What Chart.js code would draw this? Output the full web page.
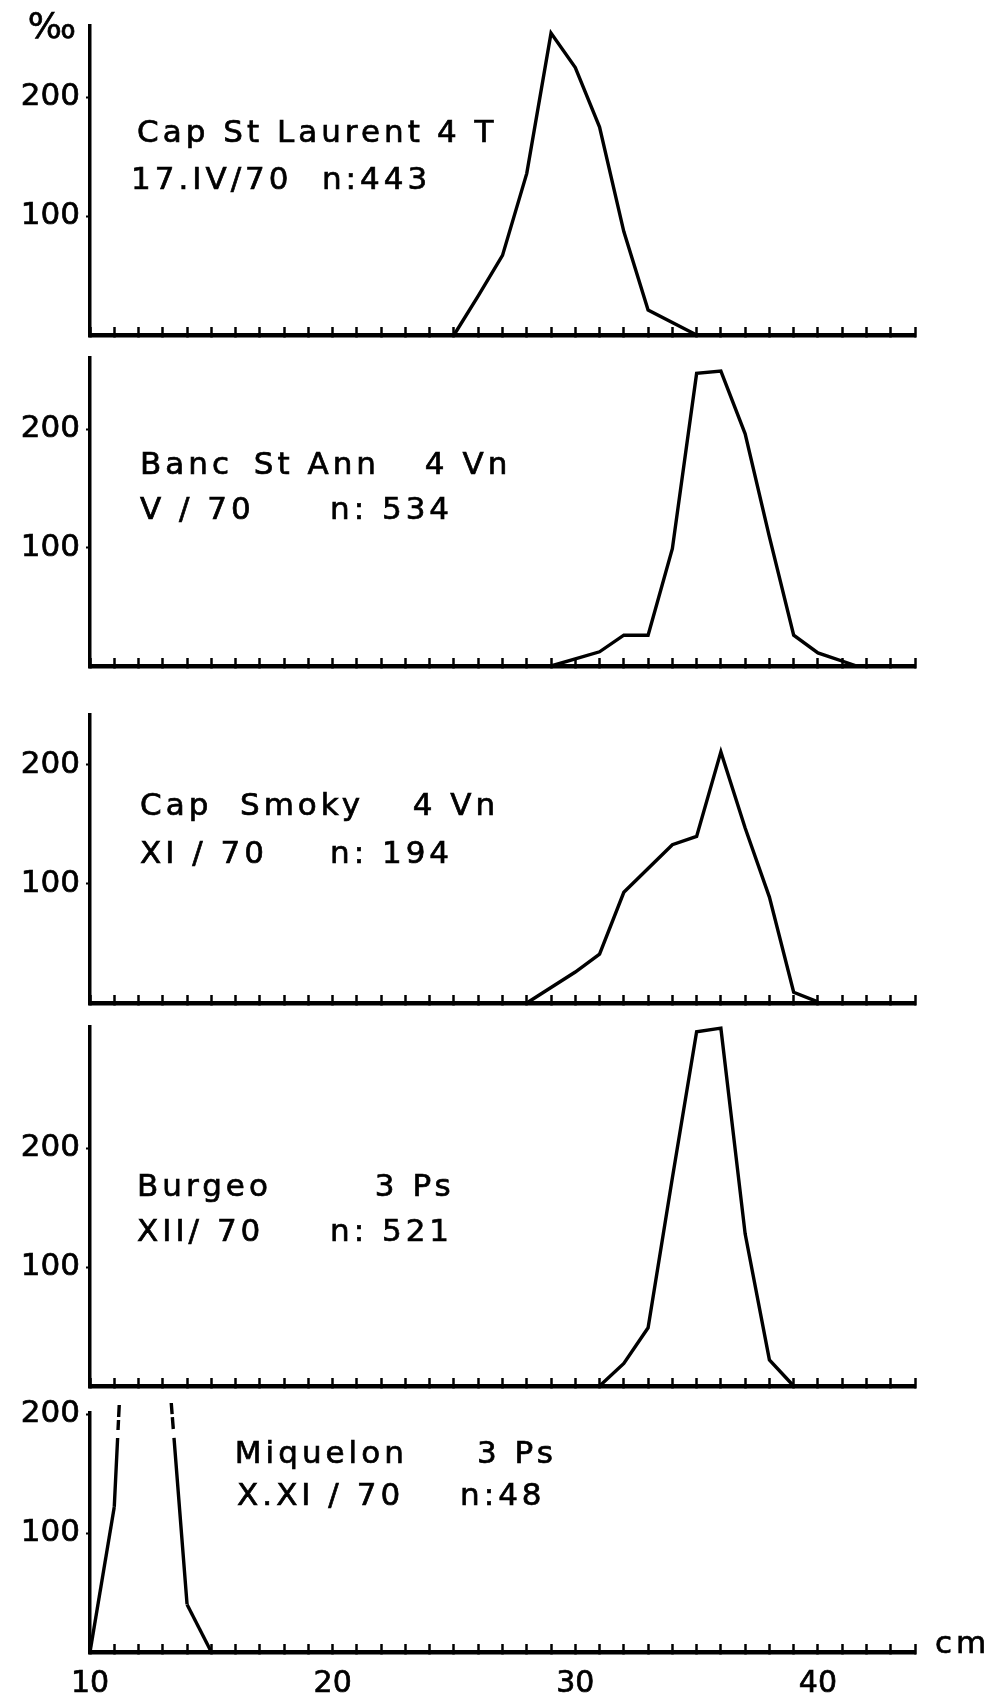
<!DOCTYPE html>
<html>
<head>
<meta charset="utf-8">
<title>Longueurs</title>
<script src="https://cdn.jsdelivr.net/npm/chart.js@4.4.1/dist/chart.umd.min.js"></script>
<style>
  html, body { margin: 0; padding: 0; background: #fff; }
  body { width: 988px; height: 1695px; position: relative; overflow: hidden; }
  canvas { position: absolute; left: 0; }
</style>
</head>
<body>
<canvas id="p1"></canvas>
<canvas id="p2"></canvas>
<canvas id="p3"></canvas>
<canvas id="p4"></canvas>
<canvas id="p5"></canvas>
<script>
// classes de longueur (cm) et frequences (pour mille)
const capStLaurentCm = [25, 26, 27, 28, 29, 30, 31, 32, 33, 35];
const capStLaurentPm = [0, 33, 67, 136, 254, 225, 175, 87, 21, 0];

const bancStAnnCm = [29, 30, 31, 32, 33, 34, 35, 36, 37, 38, 39, 40, 41.6];
const bancStAnnPm = [0, 6, 12, 26, 26, 99, 247, 249, 196, 109, 26, 11, 0];

const capSmokyCm = [28, 29, 30, 31, 32, 33, 34, 35, 36, 37, 38, 39, 40];
const capSmokyPm = [0, 13, 26, 41, 93, 113, 133, 140, 211, 147, 89, 9, 1];

const burgeoCm = [31, 32, 33, 34, 35, 36, 37, 38, 39];
const burgeoPm = [0, 19, 49, 175, 298, 301, 128, 22, 0];

// 12 et 13 cm sortent du cadre (trait interrompu)
const miquelonCm = [10, 11, 12, 13, 14, 15];
const miquelonPm = [0, 122, 540, 300, 40, 0];

const xTickLabels = [10, 20, 30, 40];
const yTickLabels = [100, 200];

const capStLaurentText = ['Cap St Laurent', '4 T', '17.IV/70', 'n:443'];
const bancStAnnText = ['Banc', 'St Ann', '4 Vn', 'V / 70', 'n: 534'];
const capSmokyText = ['Cap', 'Smoky', '4 Vn', 'XI / 70', 'n: 194'];
const burgeoText = ['Burgeo', '3 Ps', 'XII/ 70', 'n: 521'];
const miquelonText = ['Miquelon', '3 Ps', 'X.XI / 70', 'n:48'];

// mise en page : haut du cadre, ligne de base (px), max de l'axe, position des textes (cm, pour mille)
const AREA_LEFT = 90;
const AREA_RIGHT = 915;
const PAGE_H = 1695;
const panels = [
  { id: 'p1', top: 26, base: 335, yMax: 260, cm: capStLaurentCm, pm: capStLaurentPm, text: capStLaurentText,
    at: [[11.94, 162], [24.3, 162], [11.69, 123], [19.56, 123]], yUnit: '\u2030' },
  { id: 'p2', top: 358, base: 666, yMax: 260, cm: bancStAnnCm, pm: bancStAnnPm, text: bancStAnnText,
    at: [[12.06, 162], [16.75, 162], [23.8, 162], [12.06, 124], [19.89, 124]] },
  { id: 'p3', top: 715, base: 1003, yMax: 242, cm: capSmokyCm, pm: capSmokyPm, text: capSmokyText,
    at: [[12.06, 158], [16.18, 158], [23.3, 158], [12.06, 118], [19.89, 118]] },
  { id: 'p4', top: 1027, base: 1386, yMax: 302, cm: burgeoCm, pm: burgeoPm, text: burgeoText,
    at: [[11.94, 160], [21.74, 160], [11.94, 122], [19.89, 122]] },
  { id: 'p5', top: 1413, base: 1652, yMax: 201, cm: miquelonCm, pm: miquelonPm, text: miquelonText,
    at: [[15.97, 159], [25.95, 159], [16.06, 124], [25.25, 124]], xUnit: 'cm', last: true }
];

Chart.defaults.font.family = '"DejaVu Sans", sans-serif';
Chart.defaults.font.size = 31;
Chart.defaults.color = '#000';

const BREAK_AT = 180;

// trait interrompu la ou la courbe quitte le cadre
function breakDash(ctx) {
  const y = ctx.chart.scales.y;
  const a = ctx.p0, b = ctx.p1;
  const outA = a.parsed.y > y.max, outB = b.parsed.y > y.max;
  if (outA === outB) return undefined;
  const yb = y.getPixelForValue(BREAK_AT);
  const len = Math.hypot(b.x - a.x, b.y - a.y);
  if (outB) {
    const s = len * (a.y - yb) / (a.y - b.y);
    return [s, 8, 10, 3, 12, len];
  }
  const e = len * (yb - a.y) / (b.y - a.y);
  return [Math.max(e - 24, 0), 3, 12, 9, len];
}

function makeCaptions(p) {
  return {
    id: 'captions',
    afterDraw(chart) {
      const { ctx, scales: { x, y }, chartArea } = chart;
      const put = (t, px, py) => { ctx.fillText(t, px, py); ctx.strokeText(t, px, py); };
      ctx.save();
      ctx.fillStyle = '#000';
      ctx.strokeStyle = '#000';
      ctx.lineWidth = 0.7;
      ctx.textBaseline = 'alphabetic';
      ctx.font = '31px "DejaVu Sans"';
      ctx.letterSpacing = '4px';
      p.text.forEach((t, i) => {
        put(t, x.getPixelForValue(p.at[i][0]), y.getPixelForValue(p.at[i][1]));
      });
      if (p.xUnit) {
        put(p.xUnit, chartArea.right + 20, chartArea.bottom + 1);
      }
      if (p.yUnit) {
        ctx.letterSpacing = '0px';
        ctx.font = '36px "DejaVu Sans"';
        ctx.textAlign = 'center';
        put(p.yUnit, chartArea.left - 38, chartArea.top + 12);
      }
      ctx.restore();
    }
  };
}

function createPanel(p) {
  const pad = Math.min(30, p.top);
  const bottomH = p.last ? PAGE_H - p.base : 12;
  const canvas = document.getElementById(p.id);
  canvas.width = 988;
  canvas.height = p.base - p.top + pad + bottomH;
  canvas.style.top = (p.top - pad) + 'px';

  new Chart(canvas, {
    type: 'line',
    data: {
      datasets: [{
        data: p.cm.map((c, i) => ({ x: c, y: p.pm[i] })),
        borderColor: '#000',
        borderWidth: 3.4,
        pointRadius: 0,
        tension: 0,
        fill: false,
        clip: { left: 3, right: 3, bottom: 3, top: 10 },
        segment: { borderDash: breakDash }
      }]
    },
    options: {
      responsive: false,
      animation: false,
      events: [],
      layout: { padding: { top: pad, left: 0, right: 988 - AREA_RIGHT, bottom: 0 } },
      plugins: { legend: { display: false }, tooltip: { enabled: false } },
      scales: {
        x: {
          type: 'linear',
          min: 10,
          max: 44,
          border: { color: '#000', width: 4.5 },
          grid: { drawOnChartArea: false, color: '#000', tickLength: -8, tickWidth: 2.5 },
          ticks: {
            display: !!p.last,
            stepSize: 1,
            maxTicksLimit: 100,
            autoSkip: false,
            maxRotation: 0,
            padding: 22,
            font: { size: 30 },
            textStrokeColor: '#000',
            textStrokeWidth: 0.7,
            callback: v => xTickLabels.includes(v) ? String(v) : ''
          },
          afterFit: s => { s.height = bottomH; s.paddingLeft = 0; s.paddingRight = 0; }
        },
        y: {
          min: 0,
          max: p.yMax,
          border: { color: '#000', width: 3.5 },
          grid: { drawOnChartArea: false, color: '#000', tickLength: 4, tickWidth: 2 },
          ticks: {
            padding: 6,
            textStrokeColor: '#000',
            textStrokeWidth: 0.7
          },
          afterBuildTicks: s => { s.ticks = yTickLabels.map(v => ({ value: v })); },
          afterFit: s => { s.width = AREA_LEFT; s.paddingTop = 0; s.paddingBottom = 0; }
        }
      }
    },
    plugins: [makeCaptions(p)]
  });
}

panels.forEach(createPanel);
</script>
</body>
</html>
